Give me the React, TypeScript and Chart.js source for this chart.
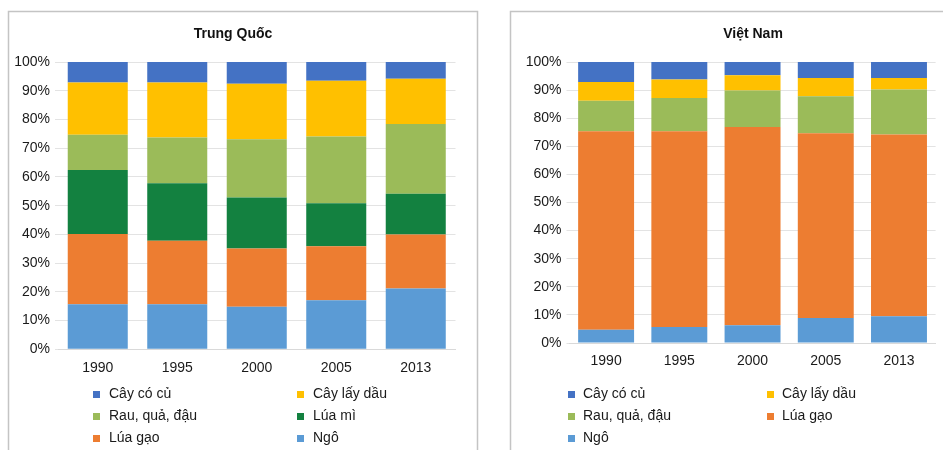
import React, { useEffect, useRef } from "react";
import { Chart, registerables } from "chart.js";

Chart.register(...registerables);

// ---------- data ----------
const years = ["1990", "1995", "2000", "2005", "2013"];

// Trung Quốc (%)
const cnNgo = [15.7, 15.7, 14.8, 17.1, 21.2];
const cnLuaGao = [24.4, 22.1, 20.3, 18.8, 18.8];
const cnLuaMi = [22.3, 20.0, 17.7, 14.9, 14.1];
const cnRau = [12.3, 15.9, 20.3, 23.3, 24.3];
const cnDau = [18.2, 19.2, 19.3, 19.4, 15.8];
const cnCu = [7.1, 7.1, 7.6, 6.5, 5.8];

// Việt Nam (%)
const vnNgo = [4.7, 5.7, 6.3, 8.9, 9.5];
const vnLuaGao = [70.7, 69.7, 70.6, 65.7, 64.7];
const vnRau = [10.8, 11.8, 13.0, 13.2, 16.0];
const vnDau = [6.7, 6.6, 5.4, 6.5, 4.1];
const vnCu = [7.1, 6.2, 4.7, 5.7, 5.7];

const cnTitle = "Trung Quốc";
const vnTitle = "Việt Nam";
const cnLegendOrder = ["Cây có củ", "Cây lấy dầu", "Rau, quả, đậu", "Lúa mì", "Lúa gạo", "Ngô"];
const vnLegendOrder = ["Cây có củ", "Cây lấy dầu", "Rau, quả, đậu", "Lúa gạo", "Ngô"];

// ---------- styles ----------
const COLORS: Record<string, string> = {
  "Ngô": "#5b9bd5",
  "Lúa gạo": "#ed7d31",
  "Lúa mì": "#138140",
  "Rau, quả, đậu": "#9bbb59",
  "Cây lấy dầu": "#ffc000",
  "Cây có củ": "#4472c4",
};
const FONT = '"Liberation Sans Narrow", "Liberation Sans", sans-serif';
const FS = 14;

const panelPlugin = {
  id: "panel",
  beforeDraw(chart: any, _args: any, opts: any) {
    const ctx = chart.ctx;
    ctx.save();
    ctx.fillStyle = "#ffffff";
    ctx.fillRect(0, 0, chart.width, chart.height);
    ctx.strokeStyle = "#c4c4c4";
    ctx.lineWidth = 1.5;
    ctx.beginPath();
    const b = opts.border;
    ctx.moveTo(b.left, chart.height + 2);
    ctx.lineTo(b.left, b.top);
    ctx.lineTo(b.right, b.top);
    if (b.right < chart.width) ctx.lineTo(b.right, chart.height + 2);
    ctx.stroke();
    ctx.restore();
  },
  afterDraw(chart: any, _args: any, opts: any) {
    const ctx = chart.ctx;
    ctx.save();
    ctx.fillStyle = "#111";
    ctx.font = `bold ${FS}px ${FONT}`;
    ctx.textAlign = "center";
    ctx.textBaseline = "middle";
    ctx.fillText(opts.title, opts.titleX, opts.titleY);
    ctx.font = `${FS}px ${FONT}`;
    ctx.textAlign = "left";
    const L = opts.legend;
    opts.order.forEach((label: string, i: number) => {
      const col = i % 2;
      const row = Math.floor(i / 2);
      const ds = chart.data.datasets.find((d: any) => d.label === label);
      const y = L.rows[row];
      ctx.fillStyle = ds ? ds.backgroundColor : "#000";
      ctx.fillRect(L.markerX[col], y - 3, 7, 7);
      ctx.fillStyle = "#1a1a1a";
      ctx.fillText(label, L.textX[col], y);
    });
    ctx.restore();
  },
};

type PanelProps = {
  left: number;
  width: number;
  datasets: { label: string; data: number[] }[];
  padding: { left: number; right: number; top: number; bottom: number };
  yAxisWidth: number;
  barPct: number;
  panel: any;
};

function Panel(p: PanelProps) {
  const ref = useRef<HTMLCanvasElement | null>(null);
  useEffect(() => {
    if (!ref.current) return;
    const chart = new Chart(ref.current, {
      type: "bar",
      data: {
        labels: years,
        datasets: p.datasets.map((d) => ({
          label: d.label,
          data: d.data,
          backgroundColor: COLORS[d.label],
          borderWidth: 0,
          barPercentage: p.barPct,
          categoryPercentage: 1,
        })),
      },
      options: {
        responsive: false,
        animation: false,
        events: [],
        layout: { padding: p.padding },
        plugins: {
          legend: { display: false },
          title: { display: false },
          tooltip: { enabled: false },
          panel: p.panel,
        } as any,
        scales: {
          x: {
            stacked: true,
            grid: { display: false, drawTicks: false },
            border: { display: true, color: "#d9d9d9", width: 1 },
            ticks: { color: "#1a1a1a", font: { family: FONT, size: FS }, padding: 10 },
            afterFit: (s: any) => {
              s.height = 30;
            },
          },
          y: {
            stacked: true,
            min: 0,
            max: 100,
            grid: { color: "#e3e3e3", lineWidth: 1, drawTicks: true, tickLength: 3 },
            border: { display: false },
            ticks: {
              stepSize: 10,
              color: "#1a1a1a",
              font: { family: FONT, size: FS },
              padding: 5,
              callback: (v: any) => `${v}%`,
            },
            afterFit: (s: any) => {
              s.width = p.yAxisWidth;
            },
          },
        },
      },
      plugins: [panelPlugin as any],
    });
    return () => chart.destroy();
  }, []);
  return (
    <canvas
      ref={ref}
      width={p.width}
      height={450}
      style={{ position: "absolute", left: p.left, top: 0, width: p.width, height: 450, display: "block" }}
    />
  );
}

export default function App() {
  const cnSets = [
    { label: "Ngô", data: cnNgo },
    { label: "Lúa gạo", data: cnLuaGao },
    { label: "Lúa mì", data: cnLuaMi },
    { label: "Rau, quả, đậu", data: cnRau },
    { label: "Cây lấy dầu", data: cnDau },
    { label: "Cây có củ", data: cnCu },
  ];
  const vnSets = [
    { label: "Ngô", data: vnNgo },
    { label: "Lúa gạo", data: vnLuaGao },
    { label: "Rau, quả, đậu", data: vnRau },
    { label: "Cây lấy dầu", data: vnDau },
    { label: "Cây có củ", data: vnCu },
  ];
  return (
    <div
      style={{
        position: "fixed",
        left: 0,
        top: 0,
        width: 943,
        height: 450,
        overflow: "hidden",
        background: "#fff",
      }}
    >
      <Panel
        left={0}
        width={480}
        datasets={cnSets}
        padding={{ left: 0, right: 24.5, top: 62, bottom: 450 - 349.3 - 30 }}
        yAxisWidth={58}
        barPct={0.755}
        panel={{
          border: { left: 8.5, top: 11.5, right: 477.5 },
          title: cnTitle,
          titleX: 233,
          titleY: 34,
          order: cnLegendOrder,
          legend: { rows: [394, 416, 438], markerX: [93, 297], textX: [109, 313] },
        }}
      />
      <Panel
        left={480}
        width={463}
        datasets={vnSets}
        padding={{ left: 0, right: 7.4, top: 62, bottom: 450 - 343 - 30 }}
        yAxisWidth={89.5}
        barPct={0.764}
        panel={{
          border: { left: 30.5, top: 11.5, right: 470 },
          title: vnTitle,
          titleX: 273,
          titleY: 34,
          order: vnLegendOrder,
          legend: { rows: [394, 416, 438], markerX: [88, 287], textX: [103, 302] },
        }}
      />
    </div>
  );
}
